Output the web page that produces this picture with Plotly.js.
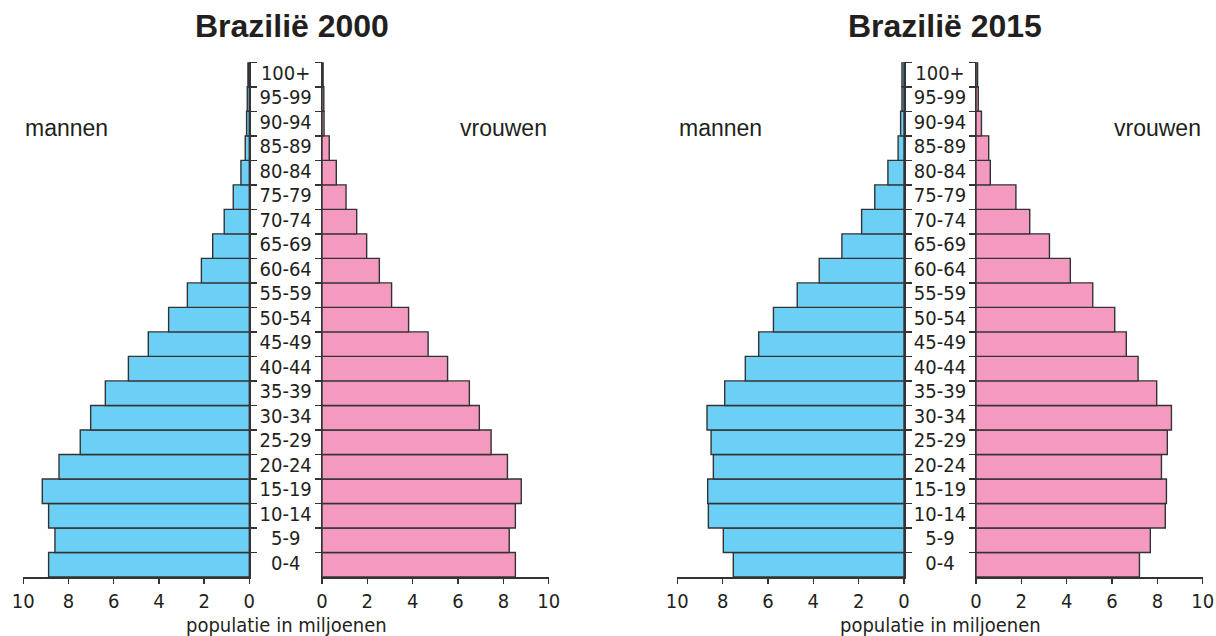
<!DOCTYPE html>
<html>
<head>
<meta charset="utf-8">
<script src="https://cdn.plot.ly/plotly-3.0.1.min.js"></script>
<style>html,body{margin:0;padding:0;background:#fff;}#chart{width:1216px;height:636px;}</style>
</head>
<body>
<div id="chart"></div>
<script>
const ageGroups = ["0-4","5-9","10-14","15-19","20-24","25-29","30-34","35-39","40-44","45-49","50-54","55-59","60-64","65-69","70-74","75-79","80-84","85-89","90-94","95-99","100+"];
const men2000   = [8.88,8.6,8.88,9.16,8.42,7.48,7.02,6.37,5.35,4.47,3.57,2.74,2.12,1.62,1.11,0.71,0.37,0.18,0.12,0.09,0.06];
const women2000 = [8.53,8.26,8.53,8.79,8.18,7.46,6.94,6.5,5.54,4.68,3.82,3.07,2.53,1.97,1.53,1.06,0.63,0.32,0.09,0.08,0.05];
const men2015   = [7.53,7.97,8.63,8.66,8.41,8.51,8.69,7.91,7.0,6.41,5.76,4.71,3.74,2.74,1.87,1.29,0.71,0.26,0.15,0.09,0.09];
const women2015 = [7.21,7.69,8.35,8.4,8.18,8.44,8.62,7.97,7.15,6.63,6.12,5.15,4.16,3.24,2.37,1.76,0.63,0.56,0.24,0.1,0.07];
const xTicks = [0,2,4,6,8,10];
const titles = ["Brazilië 2000","Brazilië 2015"];
const sideLabels = ["mannen","vrouwen"];
const axisTitle = "populatie in miljoenen";

const W = 1216, H = 636;
const BLUE = "#6ccff6", PINK = "#f49ac1", INK = "#231f20";
const NARROW = "Liberation Sans Narrow, DejaVu Sans Condensed, Arial Narrow, sans-serif";
const SANS = "Liberation Sans, Arial, sans-serif";
const px = v => v / W;
const yDom = [1 - 577 / H, 1 - 62.3 / H];

function bar(vals, color, xa, ya) {
  return {type: "bar", orientation: "h", y: ageGroups, x: vals, xaxis: xa, yaxis: ya,
    marker: {color: color, line: {color: "#333", width: 1.4}}, hoverinfo: "x+y", showlegend: false};
}
function labels(xa, ya) {
  return {type: "scatter", mode: "text", y: ageGroups, x: ageGroups.map(() => 0), text: ageGroups,
    xaxis: xa, yaxis: ya, textposition: "middle center", cliponaxis: false,
    textfont: {family: NARROW, size: 20, color: INK}, hoverinfo: "skip", showlegend: false};
}
const data = [
  bar(men2000, BLUE, "x", "y"), bar(women2000, PINK, "x2", "y2"),
  bar(men2015, BLUE, "x3", "y3"), bar(women2015, PINK, "x4", "y4"),
  labels("x5", "y"), labels("x6", "y3")
];

function xax(dom, rev, anchor) {
  return {domain: dom, anchor: anchor, range: rev ? [10, 0] : [0, 10], tickvals: xTicks, ticktext: xTicks.map(String),
    showline: true, linecolor: "#333", linewidth: 1.5, ticks: "outside", ticklen: 5, tickcolor: "#333", tickwidth: 1.5,
    showgrid: false, zeroline: false, tickfont: {family: NARROW, size: 20, color: INK}, fixedrange: true};
}
function yax(anchor, side) {
  return {domain: yDom, anchor: anchor, side: side, type: "category", categoryorder: "array", categoryarray: ageGroups,
    range: [-0.5, ageGroups.length - 0.5], showticklabels: false, showline: true, linecolor: "#333", linewidth: 1.5,
    ticks: "outside", tickson: "boundaries", ticklen: 6, tickcolor: "#333", tickwidth: 1.5, showgrid: false, fixedrange: true};
}
const layout = {
  width: W, height: H, margin: {l: 0, r: 0, t: 0, b: 0}, paper_bgcolor: "#fff", plot_bgcolor: "rgba(0,0,0,0)",
  bargap: 0, showlegend: false,
  xaxis:  xax([px(23.3), px(249.3)], true, "y"),
  xaxis2: xax([px(322), px(548.7)], false, "y2"),
  xaxis3: xax([px(677.3), px(904)], true, "y3"),
  xaxis4: xax([px(976), px(1202.7)], false, "y4"),
  xaxis5: {domain: [px(249.3), px(322)], range: [-1, 1], visible: false, anchor: "y"},
  xaxis6: {domain: [px(904), px(976)], range: [-1, 1], visible: false, anchor: "y3"},
  yaxis:  yax("x", "right"),
  yaxis2: yax("x2", "left"),
  yaxis3: yax("x3", "right"),
  yaxis4: yax("x4", "left"),
  annotations: [
    {text: titles[0], x: px(292), y: 1 - 26 / H, xref: "paper", yref: "paper", showarrow: false, xanchor: "center", yanchor: "middle", font: {family: SANS, size: 32, color: INK, weight: "bold"}},
    {text: titles[1], x: px(945), y: 1 - 26 / H, xref: "paper", yref: "paper", showarrow: false, xanchor: "center", yanchor: "middle", font: {family: SANS, size: 32, color: INK, weight: "bold"}},
    {text: sideLabels[0], x: px(66), y: 1 - 128 / H, xref: "paper", yref: "paper", showarrow: false, xanchor: "center", yanchor: "middle", font: {family: SANS, size: 23, color: INK}},
    {text: sideLabels[1], x: px(503), y: 1 - 128 / H, xref: "paper", yref: "paper", showarrow: false, xanchor: "center", yanchor: "middle", font: {family: SANS, size: 23, color: INK}},
    {text: sideLabels[0], x: px(720), y: 1 - 128 / H, xref: "paper", yref: "paper", showarrow: false, xanchor: "center", yanchor: "middle", font: {family: SANS, size: 23, color: INK}},
    {text: sideLabels[1], x: px(1157.5), y: 1 - 128 / H, xref: "paper", yref: "paper", showarrow: false, xanchor: "center", yanchor: "middle", font: {family: SANS, size: 23, color: INK}},
    {text: axisTitle, x: px(286), y: 1 - 625 / H, xref: "paper", yref: "paper", showarrow: false, xanchor: "center", yanchor: "middle", font: {family: NARROW, size: 20, color: INK}},
    {text: axisTitle, x: px(940), y: 1 - 625 / H, xref: "paper", yref: "paper", showarrow: false, xanchor: "center", yanchor: "middle", font: {family: NARROW, size: 20, color: INK}}
  ]
};
Plotly.newPlot("chart", data, layout, {displayModeBar: false, staticPlot: true});
</script>
</body>
</html>
